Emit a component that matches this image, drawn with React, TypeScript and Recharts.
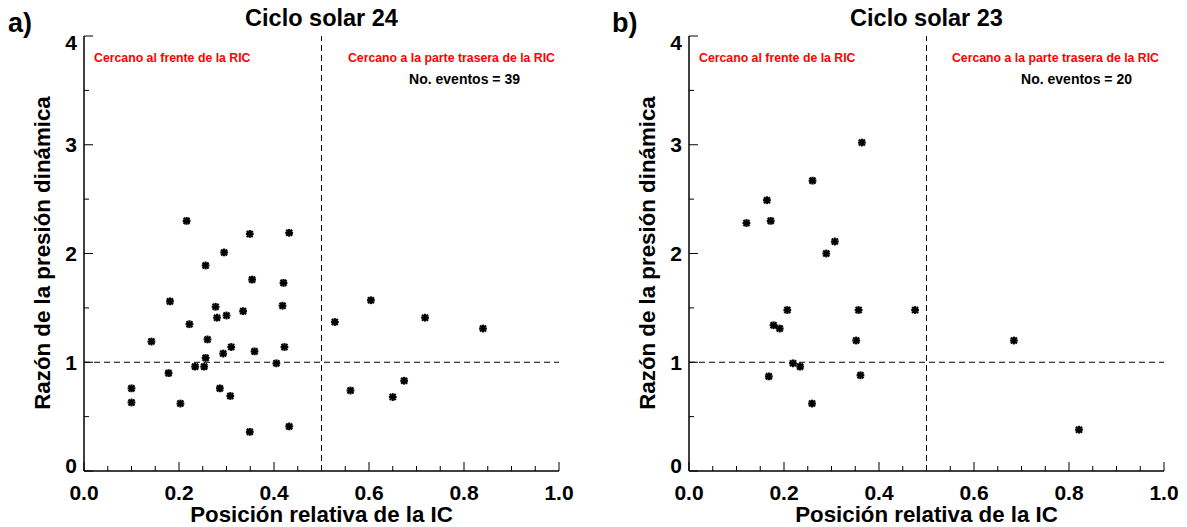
import { ReferenceLine, Scatter, ScatterChart, XAxis, YAxis } from 'recharts'

// Ciclo solar 24: posición relativa de la IC vs razón de la presión dinámica
const cycle24X = [
  0.216, 0.349, 0.432, 0.295, 0.256, 0.354, 0.42, 0.181, 0.277, 0.418, 0.335, 0.28, 0.3,
  0.222, 0.142, 0.26, 0.31, 0.293, 0.359, 0.422, 0.256, 0.234, 0.253, 0.405, 0.178, 0.1,
  0.1, 0.286, 0.308, 0.203, 0.349, 0.432, 0.528, 0.604, 0.718, 0.561, 0.674, 0.65, 0.84,
]
const cycle24Y = [
  2.3, 2.18, 2.19, 2.01, 1.89, 1.76, 1.73, 1.56, 1.51, 1.52, 1.47, 1.41, 1.43, 1.35, 1.19,
  1.21, 1.14, 1.08, 1.1, 1.14, 1.04, 0.96, 0.96, 0.99, 0.9, 0.76, 0.63, 0.76, 0.69, 0.62,
  0.36, 0.41, 1.37, 1.57, 1.41, 0.74, 0.83, 0.68, 1.31,
]

// Ciclo solar 23
const cycle23X = [
  0.364, 0.26, 0.164, 0.121, 0.172, 0.307, 0.289, 0.207, 0.357, 0.476, 0.178, 0.191, 0.352,
  0.219, 0.234, 0.168, 0.361, 0.259, 0.684, 0.821,
]
const cycle23Y = [
  3.02, 2.67, 2.49, 2.28, 2.3, 2.11, 2.0, 1.48, 1.48, 1.48, 1.34, 1.31, 1.2, 0.99, 0.96,
  0.87, 0.88, 0.62, 1.2, 0.38,
]

const xTicks = [
  0, 0.05, 0.1, 0.15, 0.2, 0.25, 0.3, 0.35, 0.4, 0.45, 0.5, 0.55, 0.6, 0.65, 0.7, 0.75, 0.8,
  0.85, 0.9, 0.95, 1.0,
]
const yTicks = [0, 0.5, 1, 1.5, 2, 2.5, 3, 3.5, 4]

const FONT = '"Liberation Sans", Arial, Helvetica, sans-serif'
const MAJOR = 9
const MINOR = 5

const isMajorX = (v: number) => Math.round(v * 100) % 20 === 0
const isMajorY = (v: number) => Number.isInteger(v)

function BottomTick({ x, y, payload }: any) {
  const v = payload.value as number
  const major = isMajorX(v)
  return (
    <g>
      <line x1={x} x2={x} y1={y} y2={y - (major ? MAJOR : MINOR)} stroke="#000" />
      {major && (
        <text x={x} y={y + 21} textAnchor="middle" dominantBaseline="central"
          fontFamily={FONT} fontWeight="bold" fontSize={21} fill="#000">
          {v.toFixed(1)}
        </text>
      )}
    </g>
  )
}

function TopTick({ x, y, payload }: any) {
  const major = isMajorX(payload.value)
  return <line x1={x} x2={x} y1={y} y2={y + (major ? MAJOR : MINOR)} stroke="#000" />
}

function LeftTick({ x, y, payload }: any) {
  const v = payload.value as number
  const major = isMajorY(v)
  // IDL nudges the end labels inside the axis range
  const dy = v === 4 ? 6.5 : v === 0 ? -6 : 0
  return (
    <g>
      <line x1={x} x2={x + (major ? MAJOR : MINOR)} y1={y} y2={y} stroke="#000" />
      {major && (
        <text x={x - 7} y={y + dy} textAnchor="end" dominantBaseline="central"
          fontFamily={FONT} fontWeight="bold" fontSize={21} fill="#000">
          {v}
        </text>
      )}
    </g>
  )
}

function RightTick({ x, y, payload }: any) {
  const major = isMajorY(payload.value)
  return <line x1={x} x2={x - (major ? MAJOR : MINOR)} y1={y} y2={y} stroke="#000" />
}

function Asterisk({ cx, cy }: any) {
  const r = 3.9
  const d = 3
  return (
    <g stroke="#000" strokeWidth={2.2}>
      <line x1={cx - r} x2={cx + r} y1={cy} y2={cy} />
      <line x1={cx} x2={cx} y1={cy - r} y2={cy + r} />
      <line x1={cx - d} x2={cx + d} y1={cy - d} y2={cy + d} />
      <line x1={cx - d} x2={cx + d} y1={cy + d} y2={cy - d} />
    </g>
  )
}

function Panel({ xs, ys, width, right }: { xs: number[]; ys: number[]; width: number; right: number }) {
  const data = xs.map((x, i) => ({ x, y: ys[i] }))
  const axisLine = { stroke: '#000', strokeWidth: 1.5 }
  return (
    <ScatterChart width={width} height={527} margin={{ top: 36, right, bottom: 16, left: 44 }}>
      <XAxis type="number" dataKey="x" domain={[0, 1]} ticks={xTicks} interval={0}
        height={40} tickSize={0} tickMargin={0} tickLine={false} axisLine={axisLine} tick={<BottomTick />} />
      <XAxis xAxisId="top" orientation="top" type="number" domain={[0, 1]} ticks={xTicks}
        interval={0} height={0} tickSize={0} tickMargin={0} tickLine={false} axisLine={axisLine} tick={<TopTick />} />
      <YAxis type="number" dataKey="y" domain={[0, 4]} ticks={yTicks} interval={0}
        width={40} tickSize={0} tickMargin={0} tickLine={false} axisLine={axisLine} tick={<LeftTick />} />
      <YAxis yAxisId="right" orientation="right" type="number" domain={[0, 4]} ticks={yTicks}
        interval={0} width={0} tickSize={0} tickMargin={0} tickLine={false} axisLine={axisLine} tick={<RightTick />} />
      <ReferenceLine x={0.5} stroke="#000" strokeDasharray="6 4" />
      <ReferenceLine y={1} stroke="#000" strokeDasharray="6 4" />
      <Scatter data={data} shape={<Asterisk />} isAnimationActive={false} />
    </ScatterChart>
  )
}

const bold = { fontFamily: FONT, fontWeight: 'bold' as const }

export default function App() {
  return (
    <div style={{ position: 'absolute', left: 0, top: 0, width: 1187, height: 527, background: '#fff' }}>
      <div style={{ position: 'absolute', left: 0, top: 0 }}>
        <Panel xs={cycle24X} ys={cycle24Y} width={600} right={41} />
      </div>
      <div style={{ position: 'absolute', left: 605, top: 0 }}>
        <Panel xs={cycle23X} ys={cycle23Y} width={582} right={23} />
      </div>
      <svg width={1187} height={527} style={{ position: 'absolute', left: 0, top: 0, pointerEvents: 'none' }}>
        <g {...bold} fill="#000">
          <text x={8} y={23} fontSize={27} dominantBaseline="central">a)</text>
          <text x={612} y={23} fontSize={27} dominantBaseline="central">b)</text>
          <text x={321.5} y={18} fontSize={23.5} textAnchor="middle" dominantBaseline="central">Ciclo solar 24</text>
          <text x={926.5} y={18} fontSize={23.5} textAnchor="middle" dominantBaseline="central">Ciclo solar 23</text>
          <text x={321.5} y={514} fontSize={22.3} textAnchor="middle" dominantBaseline="central">Posición relativa de la IC</text>
          <text x={926.5} y={514} fontSize={22.3} textAnchor="middle" dominantBaseline="central">Posición relativa de la IC</text>
          <text transform="translate(42,253) rotate(-90)" fontSize={22.3} textAnchor="middle" dominantBaseline="central">
            Razón de la presión dinámica
          </text>
          <text transform="translate(647,253) rotate(-90)" fontSize={22.3} textAnchor="middle" dominantBaseline="central">
            Razón de la presión dinámica
          </text>
          <text x={520} y={79} fontSize={14} textAnchor="end" dominantBaseline="central">No. eventos = 39</text>
          <text x={1132} y={79} fontSize={14} textAnchor="end" dominantBaseline="central">No. eventos = 20</text>
        </g>
        <g {...bold} fill="#ff0000" fontSize={12.3}>
          <text x={94} y={58} dominantBaseline="central">Cercano al frente de la RIC</text>
          <text x={555} y={58} textAnchor="end" dominantBaseline="central">Cercano a la parte trasera de la RIC</text>
          <text x={699} y={58} dominantBaseline="central">Cercano al frente de la RIC</text>
          <text x={1159} y={58} textAnchor="end" dominantBaseline="central">Cercano a la parte trasera de la RIC</text>
        </g>
      </svg>
    </div>
  )
}
